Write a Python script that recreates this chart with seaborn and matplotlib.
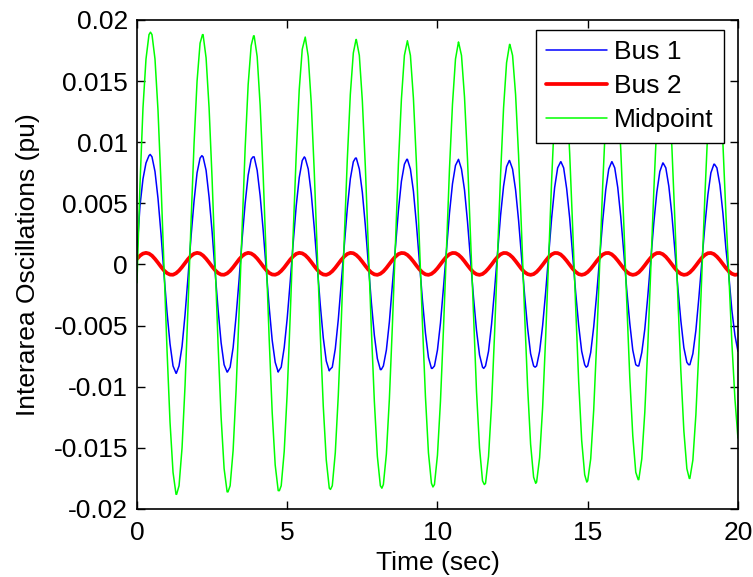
import numpy as np
import pandas as pd
import seaborn as sns
import matplotlib.pyplot as plt

# sample times (sec), one every 0.1 s
time = np.round(np.arange(201) * 0.1, 1)

bus1 = [
    0.0010, 0.0048, 0.0070, 0.0083, 0.0089, 0.0088, 0.0076, 0.0054, 0.0025, -0.0008,
    -0.0039, -0.0065, -0.0083, -0.0089, -0.0083, -0.0067, -0.0041, -0.0010, 0.0023, 0.0052,
    0.0075, 0.0087, 0.0088, 0.0077, 0.0055, 0.0027, -0.0006, -0.0037, -0.0064, -0.0082,
    -0.0088, -0.0084, -0.0068, -0.0042, -0.0012, 0.0021, 0.0050, 0.0073, 0.0086, 0.0088,
    0.0077, 0.0056, 0.0028, -0.0004, -0.0035, -0.0062, -0.0080, -0.0088, -0.0084, -0.0068,
    -0.0044, -0.0014, 0.0018, 0.0048, 0.0071, 0.0085, 0.0087, 0.0078, 0.0058, 0.0030,
    -0.0001, -0.0033, -0.0060, -0.0079, -0.0087, -0.0084, -0.0069, -0.0045, -0.0015, 0.0016,
    0.0046, 0.0070, 0.0084, 0.0087, 0.0078, 0.0059, 0.0032, 0.0000, -0.0031, -0.0058,
    -0.0077, -0.0086, -0.0083, -0.0070, -0.0047, -0.0017, 0.0014, 0.0044, 0.0068, 0.0082,
    0.0086, 0.0078, 0.0060, 0.0033, 0.0002, -0.0029, -0.0056, -0.0076, -0.0085, -0.0083,
    -0.0070, -0.0048, -0.0019, 0.0012, 0.0042, 0.0066, 0.0081, 0.0086, 0.0078, 0.0061,
    0.0035, 0.0004, -0.0027, -0.0054, -0.0074, -0.0084, -0.0083, -0.0071, -0.0049, -0.0021,
    0.0010, 0.0040, 0.0064, 0.0080, 0.0085, 0.0078, 0.0061, 0.0036, 0.0006, -0.0025,
    -0.0052, -0.0073, -0.0083, -0.0083, -0.0071, -0.0050, -0.0023, 0.0008, 0.0038, 0.0063,
    0.0079, 0.0084, 0.0079, 0.0062, 0.0038, 0.0008, -0.0023, -0.0050, -0.0071, -0.0082,
    -0.0083, -0.0072, -0.0051, -0.0024, 0.0006, 0.0036, 0.0061, 0.0078, 0.0084, 0.0079,
    0.0063, 0.0039, 0.0010, -0.0021, -0.0048, -0.0070, -0.0082, -0.0083, -0.0072, -0.0053,
    -0.0026, 0.0004, 0.0034, 0.0059, 0.0076, 0.0083, 0.0079, 0.0064, 0.0041, 0.0012,
    -0.0019, -0.0046, -0.0068, -0.0080, -0.0082, -0.0073, -0.0054, -0.0027, 0.0003, 0.0032,
    0.0057, 0.0075, 0.0082, 0.0079, 0.0065, 0.0042, 0.0013, -0.0010, -0.0038, -0.0058,
    -0.0071,
]

bus2 = [
    0.00045, 0.00072, 0.00089, 0.00095, 0.00089, 0.00072, 0.00045, 0.00014, -0.00019, -0.00049,
    -0.00071, -0.00083, -0.00084, -0.00072, -0.00050, -0.00021, 0.00012, 0.00044, 0.00070, 0.00088,
    0.00095, 0.00090, 0.00073, 0.00047, 0.00016, -0.00017, -0.00047, -0.00070, -0.00083, -0.00084,
    -0.00073, -0.00052, -0.00023, 0.00010, 0.00042, 0.00069, 0.00087, 0.00095, 0.00090, 0.00074,
    0.00049, 0.00018, -0.00015, -0.00045, -0.00069, -0.00082, -0.00084, -0.00074, -0.00053, -0.00025,
    0.00008, 0.00040, 0.00067, 0.00087, 0.00095, 0.00091, 0.00076, 0.00051, 0.00020, -0.00013,
    -0.00044, -0.00068, -0.00082, -0.00085, -0.00075, -0.00055, -0.00027, 0.00006, 0.00038, 0.00066,
    0.00086, 0.00095, 0.00092, 0.00077, 0.00053, 0.00022, -0.00011, -0.00042, -0.00066, -0.00081,
    -0.00085, -0.00076, -0.00057, -0.00029, 0.00004, 0.00036, 0.00064, 0.00085, 0.00094, 0.00092,
    0.00078, 0.00054, 0.00024, -0.00009, -0.00040, -0.00065, -0.00081, -0.00085, -0.00077, -0.00058,
    -0.00031, 0.00002, 0.00034, 0.00063, 0.00084, 0.00094, 0.00093, 0.00079, 0.00056, 0.00026,
    -0.00007, -0.00038, -0.00064, -0.00080, -0.00085, -0.00078, -0.00059, -0.00032, -0.00001, 0.00032,
    0.00061, 0.00083, 0.00094, 0.00093, 0.00080, 0.00058, 0.00028, -0.00005, -0.00037, -0.00063,
    -0.00079, -0.00085, -0.00079, -0.00061, -0.00034, -0.00003, 0.00030, 0.00060, 0.00082, 0.00094,
    0.00093, 0.00082, 0.00059, 0.00030, -0.00003, -0.00035, -0.00061, -0.00079, -0.00085, -0.00079,
    -0.00062, -0.00036, -0.00005, 0.00028, 0.00058, 0.00081, 0.00093, 0.00094, 0.00083, 0.00061,
    0.00032, -0.00001, -0.00033, -0.00060, -0.00078, -0.00085, -0.00080, -0.00064, -0.00038, -0.00007,
    0.00026, 0.00056, 0.00080, 0.00093, 0.00094, 0.00084, 0.00063, 0.00034, 0.00001, -0.00031,
    -0.00058, -0.00077, -0.00085, -0.00081, -0.00065, -0.00040, -0.00009, 0.00024, 0.00055, 0.00078,
    0.00092, 0.00094, 0.00085, 0.00064, 0.00036, 0.00003, -0.00029, -0.00057, -0.00076, -0.00085,
    -0.00081,
]

midpoint = [
    -0.0015, 0.0065, 0.0128, 0.0168, 0.0188, 0.0188, 0.0168, 0.0126, 0.0066, -0.0002,
    -0.0070, -0.0129, -0.0170, -0.0188, -0.0181, -0.0150, -0.0099, -0.0034, 0.0035, 0.0099,
    0.0150, 0.0181, 0.0188, 0.0169, 0.0128, 0.0070, 0.0002, -0.0066, -0.0125, -0.0167,
    -0.0186, -0.0181, -0.0152, -0.0102, -0.0038, 0.0030, 0.0095, 0.0147, 0.0179, 0.0187,
    0.0170, 0.0130, 0.0073, 0.0006, -0.0061, -0.0121, -0.0164, -0.0185, -0.0181, -0.0153,
    -0.0105, -0.0042, 0.0026, 0.0090, 0.0143, 0.0176, 0.0186, 0.0170, 0.0132, 0.0076,
    0.0010, -0.0057, -0.0116, -0.0160, -0.0183, -0.0181, -0.0154, -0.0107, -0.0046, 0.0022,
    0.0086, 0.0139, 0.0173, 0.0184, 0.0171, 0.0134, 0.0080, 0.0014, -0.0053, -0.0112,
    -0.0157, -0.0181, -0.0180, -0.0155, -0.0110, -0.0050, 0.0017, 0.0082, 0.0135, 0.0171,
    0.0183, 0.0171, 0.0136, 0.0083, 0.0018, -0.0048, -0.0108, -0.0154, -0.0179, -0.0180,
    -0.0156, -0.0112, -0.0053, 0.0013, 0.0078, 0.0131, 0.0168, 0.0182, 0.0171, 0.0137,
    0.0086, 0.0022, -0.0044, -0.0104, -0.0150, -0.0177, -0.0179, -0.0157, -0.0115, -0.0057,
    0.0009, 0.0073, 0.0128, 0.0165, 0.0180, 0.0171, 0.0139, 0.0089, 0.0026, -0.0040,
    -0.0100, -0.0147, -0.0174, -0.0178, -0.0158, -0.0117, -0.0060, 0.0005, 0.0069, 0.0124,
    0.0162, 0.0178, 0.0171, 0.0141, 0.0091, 0.0030, -0.0035, -0.0096, -0.0144, -0.0172,
    -0.0177, -0.0159, -0.0119, -0.0063, 0.0001, 0.0065, 0.0120, 0.0159, 0.0177, 0.0171,
    0.0142, 0.0094, 0.0034, -0.0031, -0.0092, -0.0140, -0.0170, -0.0176, -0.0159, -0.0121,
    -0.0067, -0.0003, 0.0060, 0.0116, 0.0156, 0.0175, 0.0171, 0.0143, 0.0097, 0.0037,
    -0.0027, -0.0087, -0.0136, -0.0167, -0.0175, -0.0160, -0.0123, -0.0070, -0.0007, 0.0056,
    0.0112, 0.0153, 0.0173, 0.0170, 0.0144, 0.0099, 0.0041, -0.0010, -0.0065, -0.0110,
    -0.0142,
]

# peaks and troughs (they fall between the 0.1 s samples)
bus1_ext_t = [0.44, 1.31, 2.16, 3.01, 3.86, 4.72, 5.57, 6.42, 7.27, 8.13, 8.98, 9.83,
              10.69, 11.54, 12.39, 13.25, 14.11, 14.95, 15.81, 16.66, 17.51, 18.36, 19.22]
bus1_ext_v = [0.0090, -0.0089, 0.0089, -0.0088, 0.0088, -0.0087, 0.0088, -0.0086, 0.0087,
              -0.0086, 0.0086, -0.0085, 0.00855, -0.0085, 0.0085, -0.0084, 0.0084, -0.0084,
              0.0084, -0.0083, 0.0083, -0.0082, 0.0082]
mid_ext_t = [0.45, 1.32, 2.18, 3.03, 3.88, 4.74, 5.59, 6.44, 7.29, 8.15, 9.85,
             10.71, 11.56, 12.41, 13.27, 14.12, 14.97, 15.83, 16.68, 17.53, 18.38, 19.24]
mid_ext_v = [0.0190, -0.0188, 0.0188, -0.0186, 0.0187, -0.0185, 0.0185, -0.0184, 0.0184,
             -0.0183, -0.0182, 0.0181, -0.0180, 0.0180, -0.0179, 0.0178, -0.0178, 0.0177,
             -0.0176, 0.0176, -0.0175, 0.0174]

labels = ['Bus 1', 'Bus 2', 'Midpoint']
colors = ['#0000ff', '#ff0000', '#00ff00']
widths = [1.1, 2.7, 1.1]

xticks = [0, 5, 10, 15, 20]
yticks = [-0.02, -0.015, -0.01, -0.005, 0, 0.005, 0.01, 0.015, 0.02]
ytick_labels = ['-0.02', '-0.015', '-0.01', '-0.005', '0', '0.005', '0.01', '0.015', '0.02']

sns.set_style('white')
plt.rcParams['font.family'] = ['Liberation Sans', 'DejaVu Sans']
plt.rcParams['font.size'] = 19
plt.rcParams['text.color'] = 'black'
plt.rcParams['axes.labelcolor'] = 'black'
plt.rcParams['xtick.color'] = 'black'
plt.rcParams['ytick.color'] = 'black'

df_b1 = pd.concat([pd.DataFrame({'time': time, 'value': bus1}),
                   pd.DataFrame({'time': bus1_ext_t, 'value': bus1_ext_v})])
df_b2 = pd.DataFrame({'time': time, 'value': bus2})
df_mid = pd.concat([pd.DataFrame({'time': time, 'value': midpoint}),
                    pd.DataFrame({'time': mid_ext_t, 'value': mid_ext_v})])
frames = [df_b1.sort_values('time'), df_b2, df_mid.sort_values('time')]

fig = plt.figure(figsize=(7.53, 5.77), dpi=100)
ax = fig.add_axes([0.1819, 0.1179, 0.7981, 0.8475])

for d, lab, c, w in zip(frames, labels, colors, widths):
    sns.lineplot(data=d, x='time', y='value', color=c, linewidth=w,
                 estimator=None, sort=True, label=lab, ax=ax)

ax.set_xlim(0, 20)
ax.set_ylim(-0.02, 0.02)
ax.set_xticks(xticks)
ax.set_xticklabels([str(x) for x in xticks])
ax.set_yticks(yticks)
ax.set_yticklabels(ytick_labels)
ax.set_xlabel('Time (sec)', labelpad=4, color='black')
ax.set_ylabel('Interarea Oscillations (pu)', labelpad=10, color='black')

ax.tick_params(direction='in', length=5.5, width=1, colors='black',
               bottom=True, left=True, top=True, right=True)
ax.tick_params(axis='y', pad=6.5)
ax.tick_params(axis='x', pad=9)
for s in ax.spines.values():
    s.set_visible(True)
    s.set_color('black')
    s.set_linewidth(1.2)

leg = ax.legend(loc='upper right', bbox_to_anchor=(0.9767, 0.9796), borderaxespad=0,
                frameon=True, fancybox=False, framealpha=1, edgecolor='black',
                handlelength=2.3, handletextpad=0.25, labelspacing=0.37, borderpad=0.4)
leg.get_frame().set_linewidth(1.0)
for t in leg.get_texts():
    t.set_color('black')

fig.savefig('out.png', dpi=100)
